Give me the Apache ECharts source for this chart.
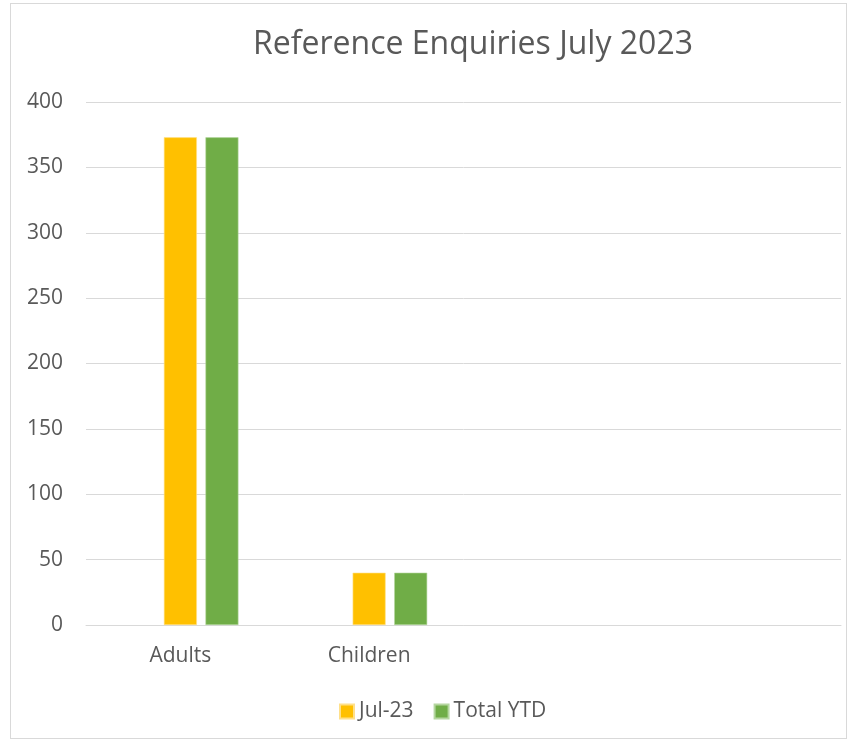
<!DOCTYPE html>
<html>
<head>
<meta charset="utf-8">
<script src="https://cdn.jsdelivr.net/npm/echarts@6/dist/echarts.min.js"></script>
<style>
  html, body { margin: 0; padding: 0; background: #fff; }
  #frame { position: absolute; left: 10px; top: 3px; width: 837px; height: 736px; border: 1px solid #D9D9D9; box-sizing: border-box; }
  #chart { width: 857px; height: 744px; }
</style>
</head>
<body>
<div id="frame"></div>
<div id="chart"></div>
<script>
// Categories along the x axis (two trailing slots are left empty)
const categories = ['Adults', 'Children', '', ''];
// Series values
const blankSlot = [null, null, null, null];
const jul23 = [373, 40, null, null];
const totalYtd = [373, 40, null, null];
// Value axis ticks
const yTicks = [0, 50, 100, 150, 200, 250, 300, 350, 400];

const FONT = '"Open Sans", sans-serif';
const TEXT = '#595959';

const chart = echarts.init(document.getElementById('chart'), null, { renderer: 'canvas' });
chart.setOption({
  animation: false,
  backgroundColor: 'transparent',
  title: {
    text: 'Reference Enquiries July 2023',
    left: 468,
    textAlign: 'center',
    top: 24,
    textStyle: { fontFamily: FONT, fontSize: 32, fontWeight: 'normal', color: TEXT }
  },
  legend: {
    data: ['Jul-23', 'Total YTD'],
    left: 334,
    top: 696,
    itemWidth: 14,
    itemHeight: 14,
    itemGap: 20,
    icon: 'rect',
    textStyle: { fontFamily: FONT, fontSize: 21, color: TEXT }
  },
  grid: { left: 86, right: 16, top: 102, bottom: 119, containLabel: false },
  xAxis: {
    type: 'category',
    data: categories,
    axisLine: { show: true, lineStyle: { color: '#D9D9D9', width: 1 } },
    axisTick: { show: false },
    axisLabel: { fontFamily: FONT, fontSize: 21, color: TEXT, margin: 21 },
    splitLine: { show: false }
  },
  yAxis: {
    type: 'value',
    min: yTicks[0],
    max: yTicks[yTicks.length - 1],
    interval: yTicks[1] - yTicks[0],
    axisLine: { show: false },
    axisTick: { show: false },
    axisLabel: { fontFamily: FONT, fontSize: 21, color: TEXT, margin: 23 },
    splitLine: { lineStyle: { color: '#D9D9D9', width: 1 } }
  },
  series: [
    { name: 'blank', type: 'bar', data: blankSlot, barWidth: 33, barGap: '26%' },
    { name: 'Jul-23', type: 'bar', data: jul23, barWidth: 33, barGap: '26%',
      itemStyle: { color: '#FFC000', borderColor: '#FFE08A', borderWidth: 0.6 } },
    { name: 'Total YTD', type: 'bar', data: totalYtd, barWidth: 33, barGap: '26%',
      itemStyle: { color: '#70AD47', borderColor: '#B5D6A0', borderWidth: 0.6 } }
  ]
});
</script>
</body>
</html>
